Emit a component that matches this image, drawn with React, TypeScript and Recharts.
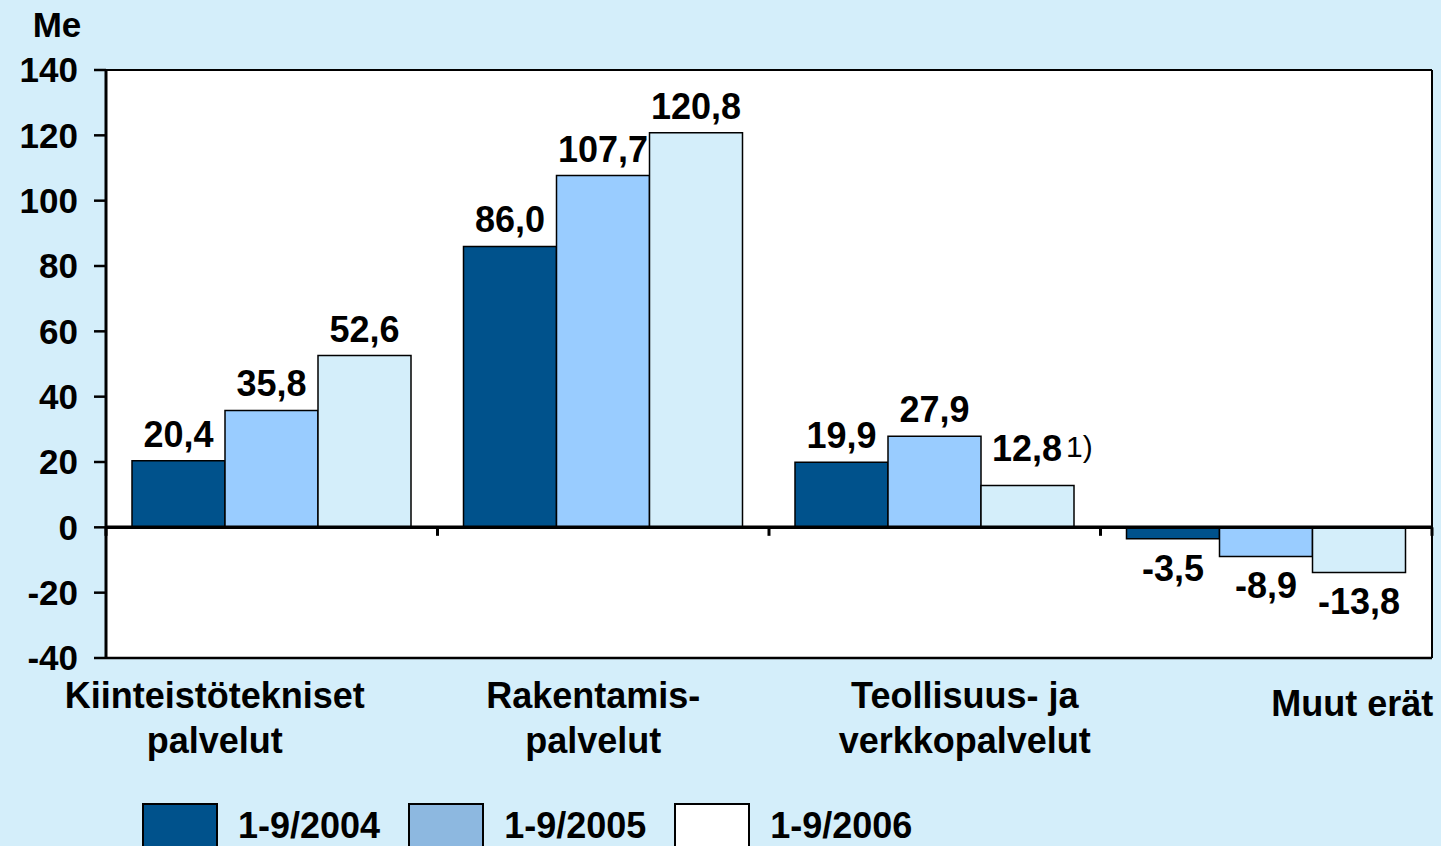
import React from 'react';
import {
  BarChart,
  Bar,
  XAxis,
  YAxis,
  CartesianGrid,
  ReferenceLine,
  LabelList
} from 'recharts';

const categories = ['Kiinteistötekniset palvelut', 'Rakentamis- palvelut', 'Teollisuus- ja verkkopalvelut', 'Muut erät'];
const categoryLines = [
  ['Kiinteistötekniset', 'palvelut'],
  ['Rakentamis-', 'palvelut'],
  ['Teollisuus- ja', 'verkkopalvelut'],
  ['Muut erät']
];
const values2004 = [20.4, 86.0, 19.9, -3.5];
const values2005 = [35.8, 107.7, 27.9, -8.9];
const values2006 = [52.6, 120.8, 12.8, -13.8];
const notes2006 = ['', '', '1)', ''];
const seriesNames = ['1-9/2004', '1-9/2005', '1-9/2006'];
const yTicks = [-40, -20, 0, 20, 40, 60, 80, 100, 120, 140];

const FONT = '"Liberation Sans", Arial, sans-serif';
const BG = '#D4EEFA';
const barColors = ['#00528C', '#99CCFF', '#D4EEFA'];
const legendColors = ['#00528C', '#8DB8E0', '#FFFFFF'];

const data = categories.map((name, i) => ({
  name,
  v2004: values2004[i],
  v2005: values2005[i],
  v2006: values2006[i],
  note: notes2006[i]
}));

const fmt = (v: number) => v.toFixed(1).replace('.', ',');

// nudges for the category captions, they sit off-centre in the original
const labelShift = [-57, -10, 30, 86];

const CategoryTick = (props: any) => {
  const { x, y, payload } = props;
  const lines = categoryLines[payload.index] || [payload.value];
  const cx = x + labelShift[payload.index];
  if (lines.length === 1) {
    return (
      <text x={cx} y={y + 58} textAnchor="middle" fontFamily={FONT} fontWeight="bold" fontSize={36} fill="#000">
        {lines[0]}
      </text>
    );
  }
  return (
    <text x={cx} y={y + 50} textAnchor="middle" fontFamily={FONT} fontWeight="bold" fontSize={36} fill="#000">
      {lines.map((l: string, k: number) => (
        <tspan key={k} x={cx} dy={k === 0 ? 0 : 45}>{l}</tspan>
      ))}
    </text>
  );
};

const makeValueLabel = (notes?: string[]) => (props: any) => {
  const { x, y, width, height, value, index } = props;
  const top = Math.min(y, y + height);
  const bottom = Math.max(y, y + height);
  const note = notes ? notes[index] : '';
  if (note) {
    return (
      <text x={x + 11} y={top - 25} textAnchor="start" fontFamily={FONT} fontWeight="bold" fontSize={36} fill="#000">
        {fmt(value)}
        <tspan fontWeight="normal" fontSize={30} dx={4} dy={-4}>{note}</tspan>
      </text>
    );
  }
  const ty = value >= 0 ? top - 14 : bottom + 42;
  return (
    <text x={x + width / 2} y={ty} textAnchor="middle" fontFamily={FONT} fontWeight="bold" fontSize={36} fill="#000">
      {fmt(value)}
    </text>
  );
};

const YUnit = () => (
  <text x={57} y={37} textAnchor="middle" fontFamily={FONT} fontWeight="bold" fontSize={35} fill="#000">
    Me
  </text>
);

export default function App() {
  const last = categories[categories.length - 1];
  return (
    <div style={{ position: 'fixed', left: 0, top: 0, width: 1441, height: 846, background: BG, overflow: 'hidden' }}>
      <BarChart
        width={1441}
        height={846}
        data={data}
        margin={{ top: 70, right: 9, left: 0, bottom: 78 }}
        barCategoryGap={26}
        barGap={0}
      >
        <CartesianGrid fill="#FFFFFF" horizontal={false} vertical={false} stroke="none" />
        <XAxis
          dataKey="name"
          axisLine={false}
          tickLine={false}
          tickSize={0}
          tickMargin={0}
          height={110}
          interval={0}
          tick={<CategoryTick />}
        />
        <YAxis
          width={106}
          domain={[-40, 140]}
          ticks={yTicks}
          interval={0}
          tickSize={12}
          tickMargin={16}
          axisLine={{ stroke: '#000', strokeWidth: 3 }}
          tickLine={{ stroke: '#000', strokeWidth: 2.5 }}
          tick={{ fontFamily: FONT, fontWeight: 'bold', fontSize: 35, fill: '#000' }}
          label={<YUnit />}
        />
        <ReferenceLine y={140} stroke="#000" strokeWidth={2} />
        <ReferenceLine y={-40} stroke="#000" strokeWidth={2.5} />
        <ReferenceLine x={last} position="end" stroke="#000" strokeWidth={2} />
        {seriesNames.map((s, i) => {
          const key = ['v2004', 'v2005', 'v2006'][i];
          return (
            <Bar
              key={s}
              dataKey={key}
              name={s}
              fill={barColors[i]}
              stroke="#000"
              strokeWidth={1.5}
              isAnimationActive={false}
            >
              <LabelList dataKey={key} content={makeValueLabel(i === 2 ? notes2006 : undefined)} />
            </Bar>
          );
        })}
        <ReferenceLine y={0} stroke="#000" strokeWidth={3.5} />
        {categories.map(c => (
          <ReferenceLine
            key={c}
            position="start"
            segment={[{ x: c, y: 0 }, { x: c, y: -2.6 }]}
            stroke="#000"
            strokeWidth={3}
          />
        ))}
        <ReferenceLine
          position="end"
          segment={[{ x: last, y: 0 }, { x: last, y: -2.6 }]}
          stroke="#000"
          strokeWidth={3}
        />
      </BarChart>
      <div
        style={{
          position: 'absolute',
          left: 142,
          top: 803,
          display: 'flex',
          alignItems: 'center',
          fontFamily: FONT,
          fontWeight: 'bold',
          fontSize: 36,
          color: '#000'
        }}
      >
        {seriesNames.map((s, i) => (
          <div key={s} style={{ display: 'flex', alignItems: 'center', marginRight: 28 }}>
            <div
              style={{
                width: 72,
                height: 42,
                background: legendColors[i],
                border: '2.5px solid #000',
                marginRight: 20
              }}
            />
            <span>{s}</span>
          </div>
        ))}
      </div>
    </div>
  );
}
